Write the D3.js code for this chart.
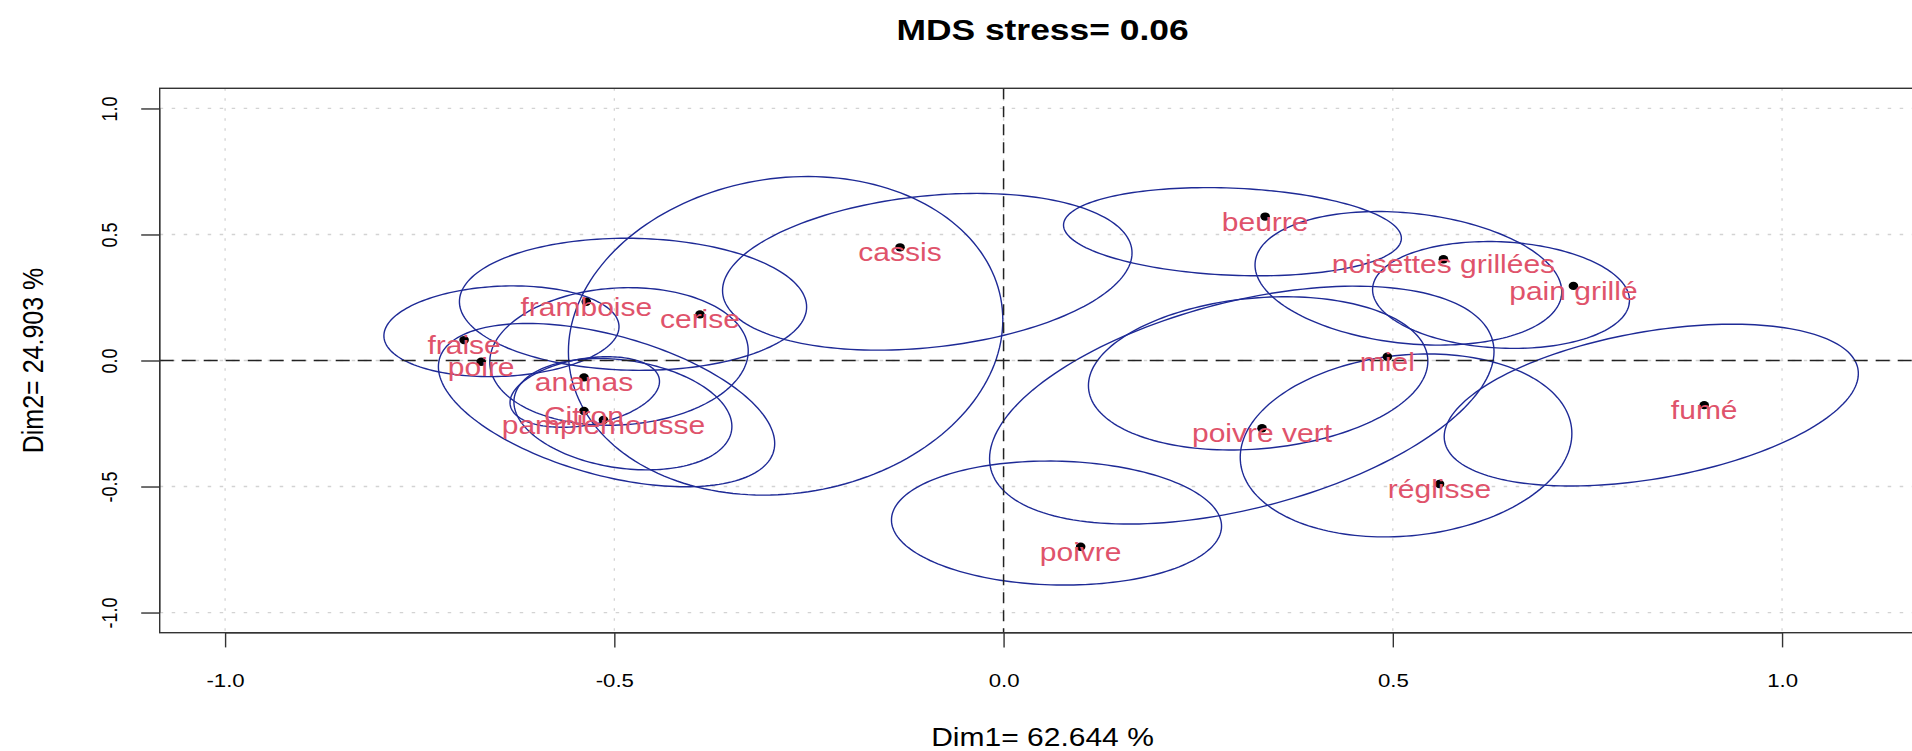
<!DOCTYPE html>
<html>
<head>
<meta charset="utf-8">
<script src="https://cdn.jsdelivr.net/npm/d3@7"></script>
<style>
  body { margin: 0; background: #fff; }
  svg { display: block; }
  text { font-family: "Liberation Sans", Arial, sans-serif; }
</style>
</head>
<body>
<svg id="chart"></svg>
<script>
const width = 1912;
const height = 751;
const margin = { top: 88.3, left: 159.7, bottom: 118.3 };

// product coordinates
const products = ["fraise", "poire", "framboise", "cerise", "ananas", "Citron", "pamplemousse", "cassis",
  "beurre", "noisettes grillées", "pain grillé", "miel", "poivre vert", "fumé", "réglisse", "poivre"];
const dim1 = [-0.693, -0.671, -0.536, -0.390, -0.539, -0.539, -0.514, -0.133,
  0.336, 0.565, 0.732, 0.493, 0.332, 0.900, 0.560, 0.099];
const dim2 = [0.081, -0.005, 0.233, 0.183, -0.067, -0.200, -0.236, 0.449,
  0.571, 0.402, 0.296, 0.015, -0.269, -0.177, -0.490, -0.739];

// confidence ellipses: centre, half extents and correlation
const ellX = [-0.645, -0.476, -0.494, -0.510, -0.538, -0.489, -0.280, -0.098,
  0.294, 0.520, 0.639, 0.306, 0.327, 0.517, 0.832, 0.068];
const ellY = [0.116, 0.223, 0.016, -0.177, -0.125, -0.213, 0.098, 0.352,
  0.511, 0.326, 0.260, -0.177, -0.051, -0.337, -0.177, -0.645];
const ellSx = [0.151, 0.223, 0.166, 0.216, 0.096, 0.140, 0.279, 0.263,
  0.217, 0.197, 0.165, 0.324, 0.218, 0.213, 0.266, 0.212];
const ellSy = [0.180, 0.262, 0.273, 0.324, 0.140, 0.221, 0.632, 0.311,
  0.175, 0.265, 0.212, 0.472, 0.304, 0.363, 0.321, 0.246];
const ellR = [0.10, -0.04, 0.08, -0.47, 0.30, -0.22, 0.10, 0.24,
  -0.15, -0.20, -0.10, 0.45, 0.16, 0.13, 0.39, -0.05];

const xTicks = [-1, -0.5, 0, 0.5, 1];
const yTicks = [-1, -0.5, 0, 0.5, 1];
const title = "MDS stress= 0.06";
const xTitle = "Dim1= 62.644 %";
const yTitle = "Dim2= 24.903 %";

const stretch = 1.2;

const svg = d3.select("#chart")
    .attr("width", width)
    .attr("height", height);

const x = d3.scaleLinear()
    .domain([-1.084, 1.184])
    .range([margin.left, 1925.3]);

const y = d3.scaleLinear()
    .domain([-1.08, 1.08])
    .range([height - margin.bottom, margin.top]);

svg.append("rect").attr("width", width).attr("height", height).attr("fill", "#fff");

svg.append("clipPath").attr("id", "plot-clip")
    .append("rect")
    .attr("x", x.range()[0]).attr("y", margin.top)
    .attr("width", x.range()[1] - x.range()[0])
    .attr("height", y.range()[0] - margin.top);

const plot = svg.append("g").attr("clip-path", "url(#plot-clip)");

// grid
plot.selectAll(".vgrid")
    .data(xTicks)
    .enter()
    .append("line")
    .attr("x1", d => x(d)).attr("x2", d => x(d))
    .attr("y1", margin.top).attr("y2", y.range()[0])
    .attr("stroke", "#d3d3d3").attr("stroke-width", 1.3)
    .attr("stroke-dasharray", "2.5,7.5");

plot.selectAll(".hgrid")
    .data(yTicks)
    .enter()
    .append("line")
    .attr("x1", x.range()[0]).attr("x2", x.range()[1])
    .attr("y1", d => y(d)).attr("y2", d => y(d))
    .attr("stroke", "#d3d3d3").attr("stroke-width", 1.3)
    .attr("stroke-dasharray", "3.5,8.5");

// ellipses
const steps = d3.range(0, 362, 2).map(a => a * Math.PI / 180);
const ellipseLine = d3.line().x(d => x(d[0])).y(d => y(d[1]));

plot.selectAll(".ellipse")
    .data(d3.range(ellX.length))
    .enter()
    .append("path")
    .attr("class", "ellipse")
    .attr("d", i => ellipseLine(steps.map(t => [
        ellX[i] + ellSx[i] * Math.cos(t),
        ellY[i] + ellSy[i] * Math.cos(t - Math.acos(ellR[i]))
    ])))
    .attr("fill", "none")
    .attr("stroke", "#1e2a96")
    .attr("stroke-width", 1.4);

// zero lines
plot.append("line")
    .attr("x1", x.range()[0]).attr("x2", x.range()[1])
    .attr("y1", y(0)).attr("y2", y(0))
    .attr("stroke", "#222").attr("stroke-width", 1.5)
    .attr("stroke-dasharray", "14,8");

plot.append("line")
    .attr("x1", x(0)).attr("x2", x(0))
    .attr("y1", margin.top).attr("y2", y.range()[0])
    .attr("stroke", "#222").attr("stroke-width", 1.5)
    .attr("stroke-dasharray", "11,7");

// points and labels
plot.selectAll(".dot")
    .data(products)
    .enter()
    .append("ellipse")
    .attr("cx", (d, i) => x(dim1[i]))
    .attr("cy", (d, i) => y(dim2[i]))
    .attr("rx", 4.8)
    .attr("ry", 4.2)
    .attr("fill", "#000");

plot.selectAll(".label")
    .data(products)
    .enter()
    .append("text")
    .attr("transform", (d, i) => `translate(${x(dim1[i])},${y(dim2[i]) + 14}) scale(${stretch},1)`)
    .attr("text-anchor", "middle")
    .attr("font-size", 25)
    .attr("fill", "#df536b")
    .text(d => d);

// box
svg.append("rect")
    .attr("x", x.range()[0]).attr("y", margin.top)
    .attr("width", x.range()[1] - x.range()[0])
    .attr("height", y.range()[0] - margin.top)
    .attr("fill", "none").attr("stroke", "#333").attr("stroke-width", 1.4);

// axes
const fmt = d => d.toFixed(1);

const xAxis = svg.append("g")
    .attr("transform", `translate(0,${y.range()[0]})`)
    .call(d3.axisBottom(x).tickValues(xTicks).tickSize(14.7).tickFormat(fmt));
xAxis.select(".domain").remove();
xAxis.selectAll("line").attr("stroke", "#333").attr("stroke-width", 1.4);
xAxis.selectAll("text")
    .attr("y", 0).attr("dy", 0)
    .attr("transform", `translate(0,54.6) scale(${stretch},1)`)
    .attr("font-size", 18.5)
    .attr("font-family", "Liberation Sans, Arial, sans-serif")
    .attr("fill", "#000");
xAxis.append("line")
    .attr("x1", x(-1)).attr("x2", x(1))
    .attr("stroke", "#333").attr("stroke-width", 1.4);

const yAxis = svg.append("g")
    .attr("transform", `translate(${x.range()[0]},0)`)
    .call(d3.axisLeft(y).tickValues(yTicks).tickSize(18.5).tickFormat(fmt));
yAxis.select(".domain").remove();
yAxis.selectAll("line").attr("stroke", "#333").attr("stroke-width", 1.4);
yAxis.selectAll("text")
    .attr("x", 0).attr("dy", 0)
    .attr("transform", `translate(-43,0) scale(${stretch},1) rotate(-90)`)
    .attr("text-anchor", "middle")
    .attr("font-size", 18)
    .attr("font-family", "Liberation Sans, Arial, sans-serif")
    .attr("fill", "#000");
yAxis.append("line")
    .attr("y1", y(-1)).attr("y2", y(1))
    .attr("stroke", "#333").attr("stroke-width", 1.4);

// titles
const midX = (x.range()[0] + x.range()[1]) / 2;

svg.append("text")
    .attr("transform", `translate(${midX},39.5) scale(${stretch},1)`)
    .attr("text-anchor", "middle")
    .attr("font-size", 29.5)
    .attr("font-weight", "bold")
    .text(title);

svg.append("text")
    .attr("transform", `translate(${midX},746) scale(${stretch},1)`)
    .attr("text-anchor", "middle")
    .attr("font-size", 25)
    .text(xTitle);

svg.append("text")
    .attr("transform", `translate(43.3,${y(0)}) scale(${stretch},1) rotate(-90)`)
    .attr("text-anchor", "middle")
    .attr("font-size", 25)
    .text(yTitle);
</script>
</body>
</html>
